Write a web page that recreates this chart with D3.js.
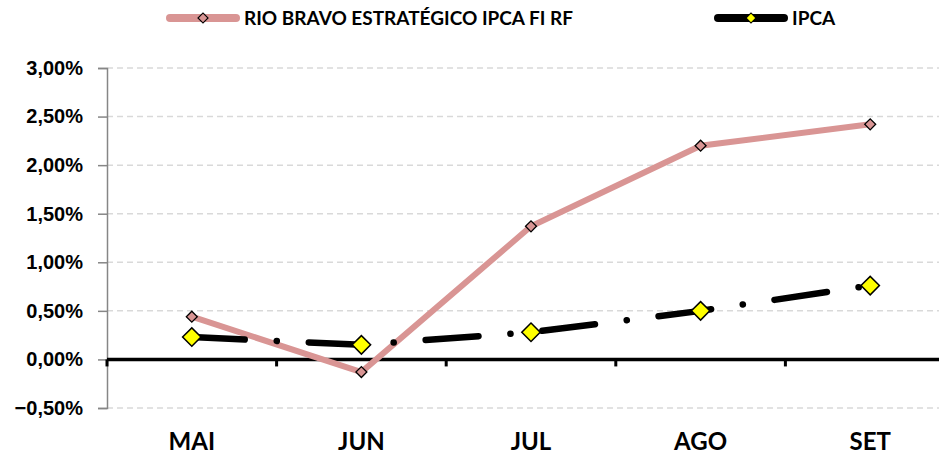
<!DOCTYPE html>
<html>
<head>
<meta charset="utf-8">
<script src="https://cdn.jsdelivr.net/npm/d3@7"></script>
<style>
  body { margin: 0; background: #fff; }
  svg { display: block; font-family: Lato, Carlito, "Open Sans", sans-serif; font-weight: bold; }
</style>
</head>
<body>
<svg id="chart" width="939" height="451"></svg>
<script>
// 1: DATA
const months = ["MAI", "JUN", "JUL", "AGO", "SET"];
const rioBravo = [0.44, -0.13, 1.37, 2.20, 2.42];
const ipca = [0.23, 0.15, 0.28, 0.50, 0.76];
const yTicks = [-0.5, 0, 0.5, 1.0, 1.5, 2.0, 2.5, 3.0];
const seriesNames = ["RIO BRAVO ESTRATÉGICO IPCA FI RF", "IPCA"];

// 2: LAYOUT
const margin = { top: 68, left: 107, bottom: 43 };
const plotHeight = 451 - margin.top - margin.bottom;
const bandWidth = 169.6;

const svg = d3.select("#chart");
const g = svg.append("g").attr("transform", `translate(${margin.left},${margin.top})`);

// 3: SCALES
const xScale = d3.scaleBand()
    .domain(months)
    .range([0, bandWidth * months.length]);

const yScale = d3.scaleLinear()
    .domain([-0.5, 3.0])
    .range([plotHeight, 0]);

const fmt = v => d3.format(".2f")(v).replace(".", ",") + "%";

// 4: GRID + AXES
g.selectAll(".grid")
    .data(yTicks)
    .enter()
    .append("line")
    .attr("x1", 0)
    .attr("x2", 840)
    .attr("y1", d => yScale(d))
    .attr("y2", d => yScale(d))
    .attr("stroke", "#d9d9d9")
    .attr("stroke-width", 1.5)
    .attr("stroke-dasharray", "6 4");

const yAxis = g.append("g")
    .call(d3.axisLeft(yScale).tickValues(yTicks).tickFormat(fmt).tickSize(9).tickPadding(15));
yAxis.select(".domain").attr("stroke", "#868686").attr("stroke-width", 1.5);
yAxis.selectAll(".tick line").attr("stroke", "#868686").attr("stroke-width", 1.5);
yAxis.selectAll("text")
    .attr("fill", "#000")
    .style("font-size", "20px")
    .style("font-weight", "bold")
    .style("font-family", "inherit");

// zero line with category ticks
g.append("line")
    .attr("x1", 0)
    .attr("x2", 860)
    .attr("y1", yScale(0))
    .attr("y2", yScale(0))
    .attr("stroke", "#000")
    .attr("stroke-width", 3.5);

g.selectAll(".xtick")
    .data(months)
    .enter()
    .append("line")
    .attr("x1", d => xScale(d))
    .attr("x2", d => xScale(d))
    .attr("y1", yScale(0))
    .attr("y2", yScale(0) + 7)
    .attr("stroke", "#000")
    .attr("stroke-width", 3);

g.selectAll(".xlabel")
    .data(months)
    .enter()
    .append("text")
    .attr("x", d => xScale(d) + xScale.bandwidth() / 2)
    .attr("y", plotHeight + 42)
    .attr("text-anchor", "middle")
    .style("font-size", "24px")
    .text(d => d);

// 5: LINES
const cx = i => xScale(months[i]) + xScale.bandwidth() / 2;
const line = d3.line()
    .x((d, i) => cx(i))
    .y(d => yScale(d));

g.append("path")
    .datum(rioBravo)
    .attr("d", line)
    .attr("fill", "none")
    .attr("stroke", "#d99594")
    .attr("stroke-width", 6);

g.selectAll(".rbMark")
    .data(rioBravo)
    .enter()
    .append("path")
    .attr("transform", (d, i) => `translate(${cx(i)},${yScale(d)}) rotate(45)`)
    .attr("d", d3.symbol().type(d3.symbolSquare).size(60))
    .attr("fill", "#d99594")
    .attr("stroke", "#000")
    .attr("stroke-width", 1.3);

g.append("path")
    .datum(ipca)
    .attr("d", line)
    .attr("fill", "none")
    .attr("stroke", "#000")
    .attr("stroke-width", 6.5)
    .attr("stroke-linecap", "round")
    .attr("stroke-dasharray", "53 32 0.1 32");

g.selectAll(".ipcaMark")
    .data(ipca)
    .enter()
    .append("path")
    .attr("transform", (d, i) => `translate(${cx(i)},${yScale(d)}) rotate(45)`)
    .attr("d", d3.symbol().type(d3.symbolSquare).size(170))
    .attr("fill", "#ffff00")
    .attr("stroke", "#000")
    .attr("stroke-width", 1.5);

// 6: LEGEND
const legendY = 18;
const legendItems = [
    { name: seriesNames[0], x: 166, color: "#d99594", fill: "#d99594" },
    { name: seriesNames[1], x: 714, color: "#000", fill: "#ffff00" }
];
const legend = svg.selectAll(".legend")
    .data(legendItems)
    .enter()
    .append("g")
    .attr("transform", d => `translate(${d.x},${legendY})`);

legend.append("line")
    .attr("x1", 4)
    .attr("x2", 70)
    .attr("stroke", d => d.color)
    .attr("stroke-width", 8)
    .attr("stroke-linecap", "round");

legend.append("path")
    .attr("transform", "translate(37,0) rotate(45)")
    .attr("d", d3.symbol().type(d3.symbolSquare).size(50))
    .attr("fill", d => d.fill)
    .attr("stroke", "#000")
    .attr("stroke-width", 1.2);

legend.append("text")
    .attr("x", 78)
    .attr("y", 7)
    .style("font-size", "19px")
    .text(d => d.name);
</script>
</body>
</html>
